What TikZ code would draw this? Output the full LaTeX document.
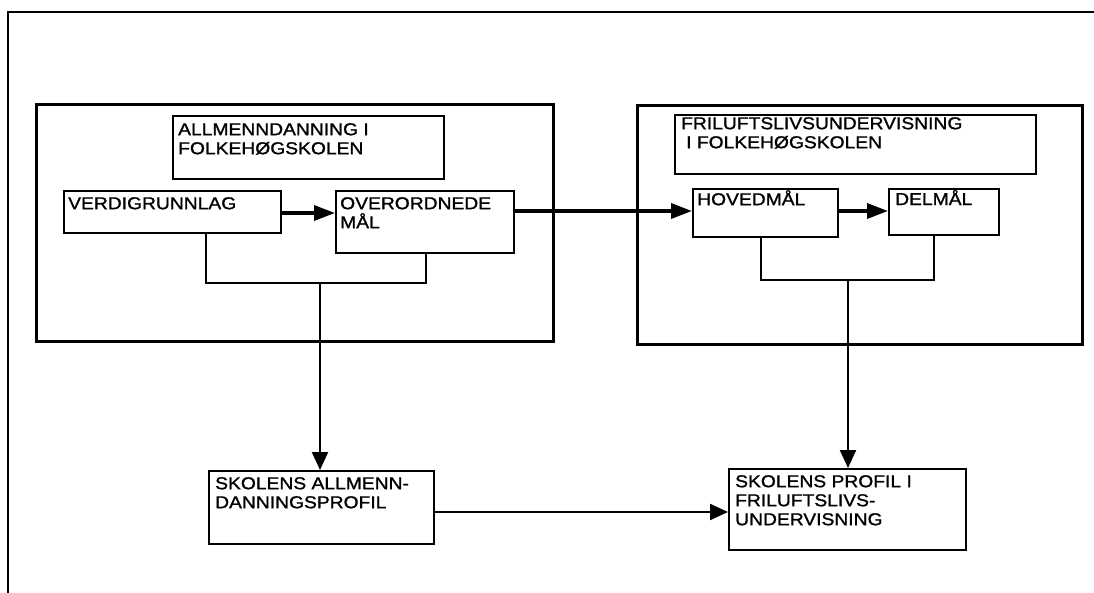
\documentclass[tikz,border=0pt]{standalone}
\usepackage{fontspec}
\setmainfont{Liberation Sans}
\font\lblfnt="Liberation Sans:embolden=1.2;extend=1.12" at 17.2pt
\newcommand\lblsetup{\lblfnt\baselineskip=19pt\relax}
\usetikzlibrary{arrows.meta}
\begin{document}
\begin{tikzpicture}[x=1pt,y=-1pt,
  box/.style={draw, line width=2.3pt, inner sep=0pt, anchor=north west},
  bigbox/.style={draw, line width=2.6pt, inner sep=0pt, anchor=north west},
  frame/.style={line width=2.6pt},
  lbl/.style={inner sep=0pt, anchor=north west, align=left, font=\lblsetup},
  link/.style={line width=2.2pt},
  flow/.style={line width=3.4pt, -{Triangle[length=21pt,width=15pt]}},
  feed/.style={line width=2.3pt, -{Triangle[length=18pt,width=16pt]}}]
\useasboundingbox (0,0) rectangle (1094,593);
% outer frame (top and left only)
\coordinate (fTL) at (8,12);
\coordinate (fTR) at (1094,12);
\coordinate (fBL) at (8,593);
\draw[frame] (fTR) -- (fTL) -- (fBL);
% big boxes
\node[bigbox, minimum width=517pt, minimum height=237pt] (outL) at (35,103) {};
\node[bigbox, minimum width=445pt, minimum height=239pt] (outR) at (636,104) {};
% inner boxes
\node[box, minimum width=271pt, minimum height=63pt] (titL) at (172,115) {};
\node[box, minimum width=361pt, minimum height=59pt] (titR) at (674,114) {};
\node[box, minimum width=217pt, minimum height=42pt] (verdi) at (63,190) {};
\node[box, minimum width=178pt, minimum height=62pt] (over) at (335,190) {};
\node[box, minimum width=145pt, minimum height=48pt] (hoved) at (692,188) {};
\node[box, minimum width=110pt, minimum height=46pt] (del) at (888,188) {};
\node[box, minimum width=225pt, minimum height=73pt] (skA) at (208,470) {};
\node[box, minimum width=237pt, minimum height=81pt] (skP) at (728,468) {};
% labels
\node[lbl] (tTitL) at (178,123) {ALLMENNDANNING I\\FOLKEHØGSKOLEN};
\node[lbl] (tTitR) at (681,117) {FRILUFTSLIVSUNDERVISNING\\\hspace*{5pt}I FOLKEHØGSKOLEN};
\node[lbl] (tVerdi) at (68,197) {VERDIGRUNNLAG};
\node[lbl] (tOver) at (340,197) {OVERORDNEDE\\M\smash{Å}L};
\node[lbl] (tHoved) at (697,193) {HOVEDM\smash{Å}L};
\node[lbl] (tDel) at (895,193) {DELM\smash{Å}L};
\node[lbl] (tSkA) at (215,477) {SKOLENS ALLMENN-\\DANNINGSPROFIL};
\node[lbl] (tSkP) at (735,475) {SKOLENS PROFIL I\\FRILUFTSLIVS-\\UNDERVISNING};
% horizontal flow arrows
\coordinate (a1) at (280,213);
\draw[flow] (a1) -- (a1 -| over.west);
\coordinate (a2) at (513,211);
\draw[flow] (a2) -- (a2 -| hoved.west);
\coordinate (a3) at (837,211);
\draw[flow] (a3) -- (a3 -| del.west);
% left bracket
\coordinate (bL1) at (206,283);
\coordinate (bL2) at (426,283);
\coordinate (jL) at (320,283);
\draw[link] (bL1 |- verdi.south) -- (bL1) -- (bL2) -- (bL2 |- over.south);
\draw[feed] (jL) -- (jL |- skA.north);
% right bracket
\coordinate (bR1) at (761,280);
\coordinate (bR2) at (934,280);
\coordinate (jR) at (848,280);
\draw[link] (bR1 |- hoved.south) -- (bR1) -- (bR2) -- (bR2 |- del.south);
\draw[feed] (jR) -- (jR |- skP.north);
% bottom arrow
\coordinate (h1) at (433,512);
\draw[feed] (h1) -- (h1 -| skP.west);
\end{tikzpicture}
\end{document}
